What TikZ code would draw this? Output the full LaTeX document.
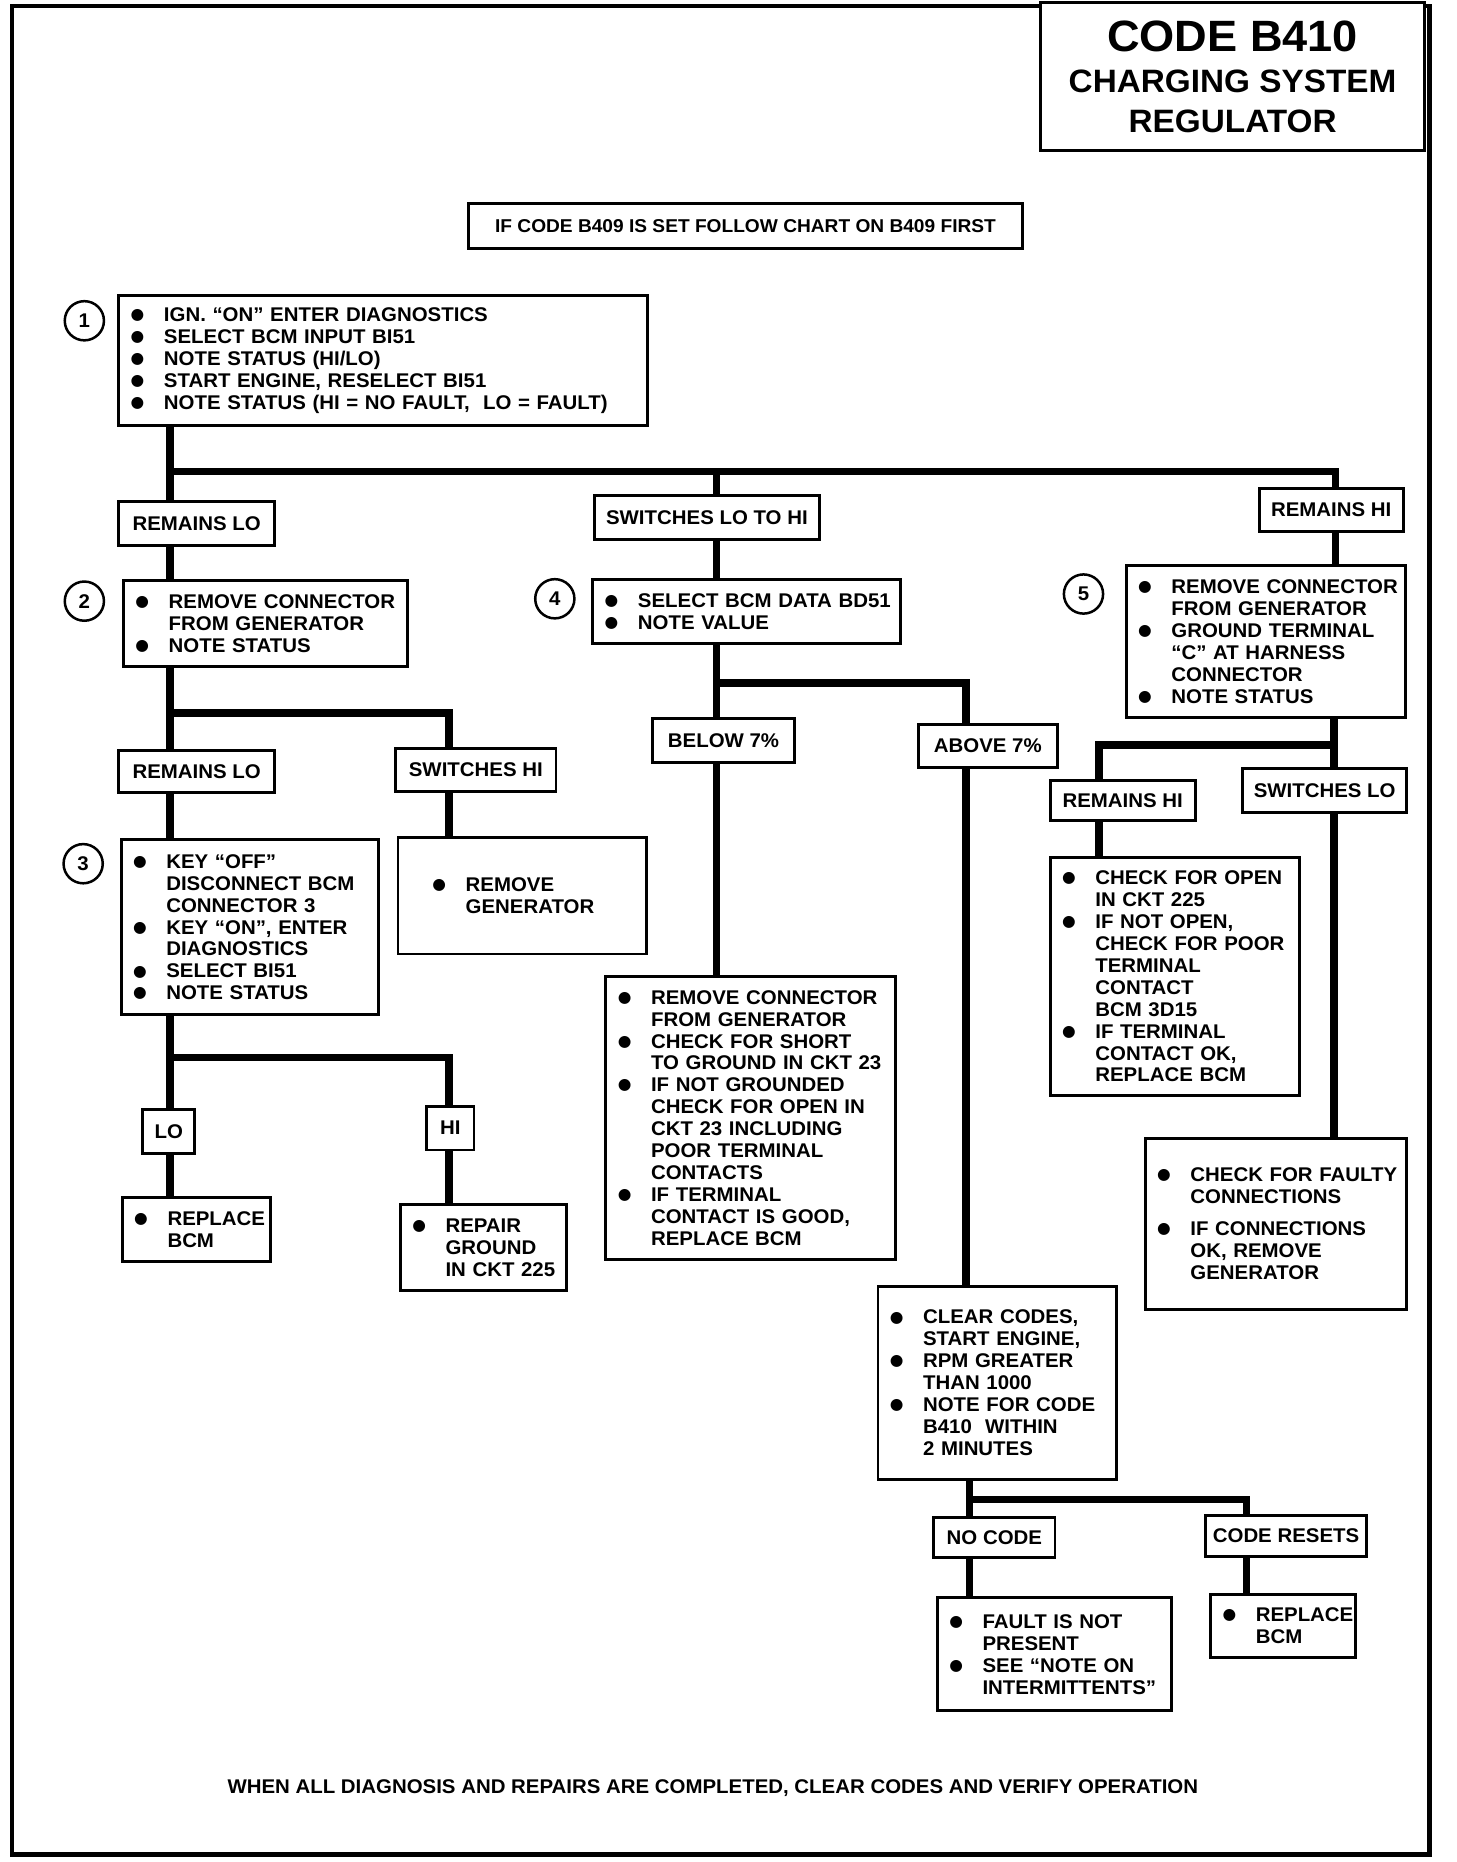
\documentclass[tikz,border=0pt]{standalone}
\usepackage{fontspec}
\setmainfont{Liberation Sans}[FakeStretch=1.03]
\newfontfamily\dotfont{DejaVu Sans}
\newcommand\chartfont{\fontsize{9.5}{10.5}\selectfont\bfseries}
\newcommand\bl[1]{\makebox[0.56cm][l]{\raisebox{0.9pt}{\dotfont\fontsize{7.5}{7.5}\selectfont ●}}\mbox{#1}}
\newcommand\cn[1]{\hspace*{0.56cm}\mbox{#1}}

\begin{document}
\begin{tikzpicture}[x=0.02cm,y=-0.02cm,line join=miter]
    \tikzstyle{wire}=[line width=3.6pt]
    \tikzstyle{chk}=[draw, line width=1.4pt, anchor=north west, align=left, inner xsep=0.2cm, inner ysep=0pt, outer sep=0pt, font=\chartfont]
    \tikzstyle{outcome}=[draw, line width=1.4pt, align=center, inner sep=0pt, outer sep=0pt, font=\chartfont]
    \tikzstyle{num}=[draw, circle, line width=1.2pt, minimum size=0.66cm, inner sep=0pt, font=\chartfont]

    \useasboundingbox (0,0) rectangle (1225.6,1567.3);
    \draw[line width=2.2pt] (10,5) rectangle (1203,1561);

    \node[draw, line width=1.4pt, fill=white, minimum width=6.46cm, minimum height=2.5cm, align=center, inner sep=0pt,
          font=\fontsize{15.5}{19}\selectfont\bfseries] (title) at (1037.5,64.5)
          {{\fontsize{21}{22}\selectfont CODE B410}\\[1pt] CHARGING SYSTEM\\ REGULATOR};
    \node[outcome, minimum width=9.34cm, minimum height=0.76cm, font=\fontsize{8.9}{10}\selectfont\bfseries] (note) at (627.5,190)
          {IF CODE B409 IS SET FOLLOW CHART ON B409 FIRST};

    % step 1
    \node[num] (n1) at (71,270) {1};
    \node[chk, text width=8.5cm, minimum height=2.18cm] (b1) at (100,249)
          {\bl{IGN. “ON” ENTER DIAGNOSTICS}\\ \bl{SELECT BCM INPUT BI51}\\ \bl{NOTE STATUS (HI/LO)}\\
           \bl{START ENGINE, RESELECT BI51}\\ \bl{NOTE STATUS (HI = NO FAULT,\ \ LO = FAULT)}};
    \coordinate (j1) at (143,397);
    \coordinate (j1b) at (603,397);
    \coordinate (j1c) at (1124,397);

    % remains lo
    \node[outcome, minimum width=2.62cm, minimum height=0.74cm] (rlo1) at (165.5,440.5) {REMAINS LO};
    \node[num] (n2) at (71,506) {2};
    \node[chk, text width=4.38cm, minimum height=1.44cm] (b2) at (104,489)
          {\bl{REMOVE CONNECTOR}\\ \cn{FROM GENERATOR}\\ \bl{NOTE STATUS}};
    \coordinate (j2) at (143,600);
    \coordinate (j2b) at (378,600);
    \node[outcome, minimum width=2.62cm, minimum height=0.70cm] (rlo2) at (165.5,649.5) {REMAINS LO};
    \node[outcome, minimum width=2.7cm, minimum height=0.72cm] (shi) at (400.5,648) {SWITCHES HI};
    \node[num] (n3) at (70,727) {3};
    \node[chk, text width=3.94cm, minimum height=2.94cm] (b3) at (102,707)
          {\bl{KEY “OFF”}\\ \cn{DISCONNECT BCM}\\ \cn{CONNECTOR 3}\\ \bl{KEY “ON”, ENTER}\\
           \cn{DIAGNOSTICS}\\ \bl{SELECT BI51}\\ \bl{NOTE STATUS}};
    \node[chk, inner xsep=0.58cm, text width=3.02cm, minimum height=1.96cm] (rg) at (335,705)
          {\bl{REMOVE}\\ \cn{GENERATOR}};
    \coordinate (j3) at (143,890);
    \coordinate (j3b) at (378,890);
    \node[outcome, minimum width=0.88cm, minimum height=0.74cm] (lo) at (142,952.5) {LO};
    \node[outcome, minimum width=0.8cm, minimum height=0.74cm] (hi) at (379,949.5) {HI};
    \node[chk, text width=2.1cm, minimum height=1.08cm] (rb1) at (103,1008)
          {\bl{REPLACE}\\ \cn{BCM}};
    \node[chk, text width=2.4cm, minimum height=1.44cm] (rp) at (337,1014)
          {\bl{REPAIR}\\ \cn{GROUND}\\ \cn{IN CKT 225}};

    % switches lo to hi
    \node[outcome, minimum width=3.8cm, minimum height=0.74cm] (slh) at (595,435.5) {SWITCHES LO TO HI};
    \node[num] (n4) at (467,504) {4};
    \node[chk, text width=4.78cm, minimum height=1.08cm] (b4) at (499,488)
          {\bl{SELECT BCM DATA BD51}\\ \bl{NOTE VALUE}};
    \coordinate (j4) at (603,575);
    \coordinate (j4b) at (813,575);
    \node[outcome, minimum width=2.4cm, minimum height=0.74cm] (b7) at (609,623.5) {BELOW 7\%};
    \node[outcome, minimum width=2.34cm, minimum height=0.72cm] (a7) at (831.5,628) {ABOVE 7\%};
    \node[chk, text width=4.48cm, minimum height=4.76cm] (bc) at (510,822)
          {\bl{REMOVE CONNECTOR}\\ \cn{FROM GENERATOR}\\ \bl{CHECK FOR SHORT}\\ \cn{TO GROUND IN CKT 23}\\
           \bl{IF NOT GROUNDED}\\ \cn{CHECK FOR OPEN IN}\\ \cn{CKT 23 INCLUDING}\\ \cn{POOR TERMINAL}\\
           \cn{CONTACTS}\\ \bl{IF TERMINAL}\\ \cn{CONTACT IS GOOD,}\\ \cn{REPLACE BCM}};
    \node[chk, text width=3.62cm, minimum height=3.24cm] (cc) at (739,1083)
          {\bl{CLEAR CODES,}\\ \cn{START ENGINE,}\\ \bl{RPM GREATER}\\ \cn{THAN 1000}\\
           \bl{NOTE FOR CODE}\\ \cn{B410\ \ WITHIN}\\ \cn{2 MINUTES}};
    \coordinate (j5) at (816,1262);
    \coordinate (j5b) at (1049,1262);
    \node[outcome, minimum width=2.04cm, minimum height=0.68cm] (nc) at (837,1294) {NO CODE};
    \node[outcome, minimum width=2.7cm, minimum height=0.68cm] (cr) at (1082.5,1293) {CODE RESETS};
    \node[chk, text width=3.54cm, minimum height=1.9cm] (fp) at (789,1345)
          {\bl{FAULT IS NOT}\\ \cn{PRESENT}\\ \bl{SEE “NOTE ON}\\ \cn{INTERMITTENTS”}};
    \node[chk, text width=2.04cm, minimum height=1.06cm] (rb2) at (1019,1342)
          {\bl{REPLACE}\\ \cn{BCM}};

    % remains hi
    \node[outcome, minimum width=2.42cm, minimum height=0.72cm] (rhi1) at (1120.5,429) {REMAINS HI};
    \node[num] (n5) at (912,500) {5};
    \node[chk, text width=4.3cm, minimum height=2.56cm] (b5) at (948,476)
          {\bl{REMOVE CONNECTOR}\\ \cn{FROM GENERATOR}\\ \bl{GROUND TERMINAL}\\ \cn{“C” AT HARNESS}\\
           \cn{CONNECTOR}\\ \bl{NOTE STATUS}};
    \coordinate (j6) at (1123,627);
    \coordinate (j6b) at (925,627);
    \node[outcome, minimum width=2.44cm, minimum height=0.68cm] (rhi2) at (945,674) {REMAINS HI};
    \node[outcome, minimum width=2.76cm, minimum height=0.74cm] (slo) at (1115,665.5) {SWITCHES LO};
    \node[chk, text width=3.8cm, minimum height=4.0cm] (co) at (884,722)
          {\bl{CHECK FOR OPEN}\\ \cn{IN CKT 225}\\ \bl{IF NOT OPEN,}\\ \cn{CHECK FOR POOR}\\ \cn{TERMINAL}\\
           \cn{CONTACT}\\ \cn{BCM 3D15}\\ \bl{IF TERMINAL}\\ \cn{CONTACT OK,}\\ \cn{REPLACE BCM}};
    \node[chk, text width=4.0cm, minimum height=2.88cm] (cf) at (964,958)
          {\bl{CHECK FOR FAULTY}\\ \cn{CONNECTIONS}\\[0.17cm] \bl{IF CONNECTIONS}\\ \cn{OK, REMOVE}\\ \cn{GENERATOR}};

    \node[font=\chartfont] (final) at (600,1505)
          {WHEN ALL DIAGNOSIS AND REPAIRS ARE COMPLETED, CLEAR CODES AND VERIFY OPERATION};

    \draw[wire] (b1.south -| j1) -- (rlo1.north -| j1);
    \draw[wire] (j1) -- (j1c) -- (rhi1.north -| j1c);
    \draw[wire] (j1b) -- (slh.north -| j1b);
    \draw[wire] (rlo1.south -| j1) -- (b2.north -| j1);
    \draw[wire] (b2.south -| j2) -- (rlo2.north -| j2);
    \draw[wire] (j2) -- (j2b) -- (shi.north -| j2b);
    \draw[wire] (rlo2.south -| j2) -- (b3.north -| j2);
    \draw[wire] (shi.south -| j2b) -- (rg.north -| j2b);
    \draw[wire] (b3.south -| j3) -- (lo.north -| j3);
    \draw[wire] (lo.south -| j3) -- (rb1.north -| j3);
    \draw[wire] (j3) -- (j3b) -- (hi.north -| j3b);
    \draw[wire] (hi.south -| j3b) -- (rp.north -| j3b);
    \draw[wire] (slh.south -| j1b) -- (b4.north -| j1b);
    \draw[wire] (b4.south -| j4) -- (b7.north -| j4);
    \draw[wire] (b7.south -| j4) -- (bc.north -| j4);
    \draw[wire] (j4) -- (j4b) -- (a7.north -| j4b);
    \draw[wire] (a7.south -| j4b) -- (cc.north -| j4b);
    \draw[wire] (cc.south -| j5) -- (nc.north -| j5);
    \draw[wire] (j5) -- (j5b) -- (cr.north -| j5b);
    \draw[wire] (nc.south -| j5) -- (fp.north -| j5);
    \draw[wire] (cr.south -| j5b) -- (rb2.north -| j5b);
    \draw[wire] (rhi1.south -| j1c) -- (b5.north -| j1c);
    \draw[wire] (b5.south -| j6) -- (slo.north -| j6);
    \draw[wire] (slo.south -| j6) -- (cf.north -| j6);
    \draw[wire] (j6) -- (j6b) -- (rhi2.north -| j6b);
    \draw[wire] (rhi2.south -| j6b) -- (co.north -| j6b);
\end{tikzpicture}
\end{document}
